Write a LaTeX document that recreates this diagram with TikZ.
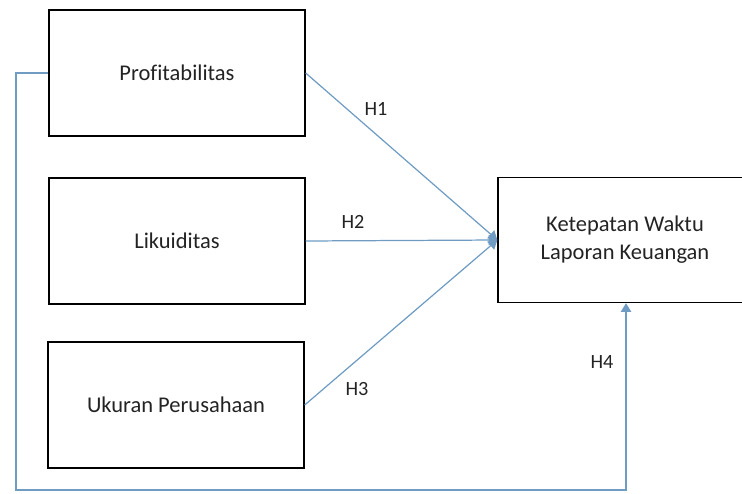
\documentclass[tikz,border=0pt]{standalone}
\usepackage{fontspec}
\setmainfont{Carlito}[Ligatures=NoCommon]
\usetikzlibrary{arrows.meta}
\definecolor{linkblue}{RGB}{112,156,196}
\definecolor{inktext}{RGB}{35,35,35}
\tikzset{
	varbox/.style={ draw=black, line width=0.8pt, minimum width=5.12cm, minimum height=2.52cm, align=center, text=inktext, font=\fontsize{12.8}{15.8}\selectfont },
	link/.style={ draw=linkblue, line width=0.7pt },
	hyp/.style={ text=inktext, font=\fontsize{11.5}{13}\selectfont }
}
\begin{document}
\begin{tikzpicture}[x=0.02cm,y=-0.02cm]
	\useasboundingbox (0,0) rectangle (742,493);
	\clip (0,0) rectangle (742,493);
	% Independent variables
	\node[ varbox ] (prof) at (177,73) {Profitabilitas};
	\node[ varbox ] (likuid) at (177,241) {Likuiditas};
	\node[ varbox ] (ukuran) at (176,405) {Ukuran Perusahaan};
	% Dependent variable
	\node[ varbox, minimum width=5.08cm, minimum height=2.5cm ] (ketepatan) at (625,240) {Ketepatan Waktu\\Laporan Keuangan};
	% H1, H2, H3
	\draw[ link, -{Triangle[width=6pt,length=5pt]} ] (prof.east) -- (ketepatan.west);
	\draw[ link, -{Triangle[width=6pt,length=5pt]} ] (likuid.east) -- (ketepatan.west);
	\draw[ link, -{Triangle[width=6pt,length=5pt]} ] (ukuran.east) -- (ketepatan.west);
	\node[ hyp ] (h1) at (376,109) {H1};
	\node[ hyp ] (h2) at (353,222) {H2};
	\node[ hyp ] (h3) at (357,389) {H3};
	% H4 (loop round the left and bottom)
	\coordinate (lowL) at (16,490);
	\coordinate (lowR) at (626,490);
	\draw[ link, -{Triangle[width=6pt,length=5pt]} ] (prof.west) -| (lowL) -- (lowR) -- (ketepatan.south -| lowR);
	\node[ hyp ] (h4) at (602,362) {H4};
\end{tikzpicture}
\end{document}
